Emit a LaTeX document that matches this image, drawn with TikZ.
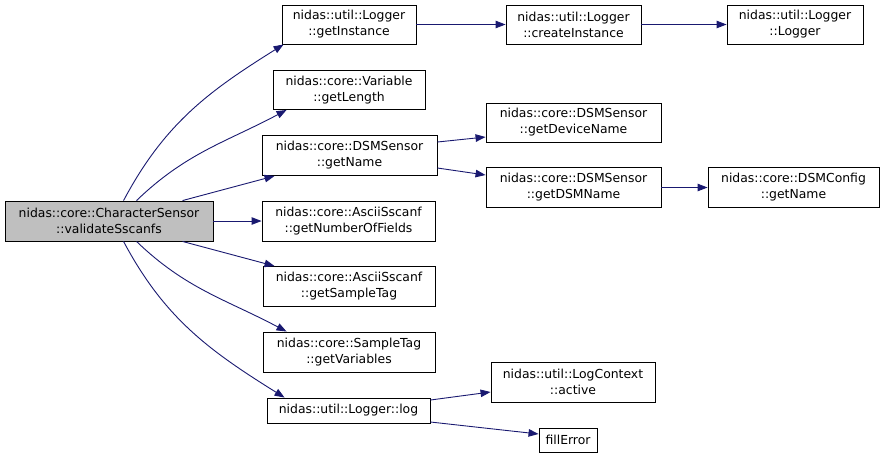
\documentclass[tikz,border=0pt]{standalone}
\usepackage{fontspec}
\setmainfont{DejaVu Sans}
\usetikzlibrary{arrows.meta}
\definecolor{edgeblue}{HTML}{191970}
\definecolor{maingray}{HTML}{BFBFBF}
\begin{document}
\begin{tikzpicture}[x=1pt,y=-1pt,
  fn/.style={draw=black,line width=0.9pt,fill=white,inner sep=0pt,align=center,
    font=\fontsize{12.4}{16}\selectfont},
  call/.style={draw=edgeblue,line width=0.9pt,-{Triangle[length=10pt,width=7.5pt]},color=edgeblue}]
\useasboundingbox (0,0) rectangle (885,459);
\node[fn,fill=maingray,minimum width=208pt,minimum height=40pt] (main) at (109,221) {nidas::core::CharacterSensor\\::validateSscanfs};
\node[fn,minimum width=134pt,minimum height=39pt] (inst) at (349,24.5) {nidas::util::Logger\\::getInstance};
\node[fn,minimum width=135pt,minimum height=39pt] (create) at (573.5,24.5) {nidas::util::Logger\\::createInstance};
\node[fn,minimum width=136pt,minimum height=39pt] (logger) at (795,24.5) {nidas::util::Logger\\::Logger};
\node[fn,minimum width=152pt,minimum height=39pt] (len) at (349,90) {nidas::core::Variable\\::getLength};
\node[fn,minimum width=175pt,minimum height=40pt] (gname) at (349.5,155.5) {nidas::core::DSMSensor\\::getName};
\node[fn,minimum width=175pt,minimum height=39pt] (dev) at (573.5,122.5) {nidas::core::DSMSensor\\::getDeviceName};
\node[fn,minimum width=175pt,minimum height=40pt] (dsm) at (573.5,187.5) {nidas::core::DSMSensor\\::getDSMName};
\node[fn,minimum width=171pt,minimum height=40pt] (cfg) at (793.5,187.5) {nidas::core::DSMConfig\\::getName};
\node[fn,minimum width=173pt,minimum height=40pt] (nf) at (348.5,221) {nidas::core::AsciiSscanf\\::getNumberOfFields};
\node[fn,minimum width=172pt,minimum height=40pt] (tag) at (349,286.5) {nidas::core::AsciiSscanf\\::getSampleTag};
\node[fn,minimum width=172pt,minimum height=40pt] (vars) at (349,352) {nidas::core::SampleTag\\::getVariables};
\node[fn,minimum width=163pt,minimum height=25pt] (log) at (348.5,410.5) {nidas::util::Logger::log};
\node[fn,minimum width=164pt,minimum height=40pt] (act) at (573,382) {nidas::util::LogContext\\::active};
\node[fn,minimum width=58pt,minimum height=24pt] (fill) at (568,440) {fillError};
\draw[call] ([xshift=119pt]main.north west) to[out=62,in=212] ([xshift=2pt]inst.south west);
\draw[call] ([xshift=132pt]main.north west) to[out=44,in=208] ([xshift=14pt]len.south west);
\draw[call] ([xshift=178pt]main.north west) -- ([xshift=13pt]gname.south west);
\draw[call] (main) -- (nf);
\draw[call] ([xshift=178pt]main.south west) -- ([xshift=12pt]tag.north west);
\draw[call] ([xshift=132pt]main.south west) to[out=-44,in=152] ([xshift=24pt]vars.north west);
\draw[call] ([xshift=119pt]main.south west) to[out=-62,in=148] ([xshift=18pt]log.north west);
\draw[call] (inst) -- (create);
\draw[call] (create) -- (logger);
\draw[call] ([yshift=13.5pt]gname.east) -- ([yshift=-14.5pt]dev.west);
\draw[call] ([yshift=-12.5pt]gname.east) -- ([yshift=12.5pt]dsm.west);
\draw[call] (dsm) -- (cfg);
\draw[call] ([yshift=10.5pt]log.east) -- ([yshift=-10pt]act.west);
\draw[call] ([yshift=-11.5pt]log.east) -- ([yshift=6pt]fill.west);
\end{tikzpicture}
\end{document}
